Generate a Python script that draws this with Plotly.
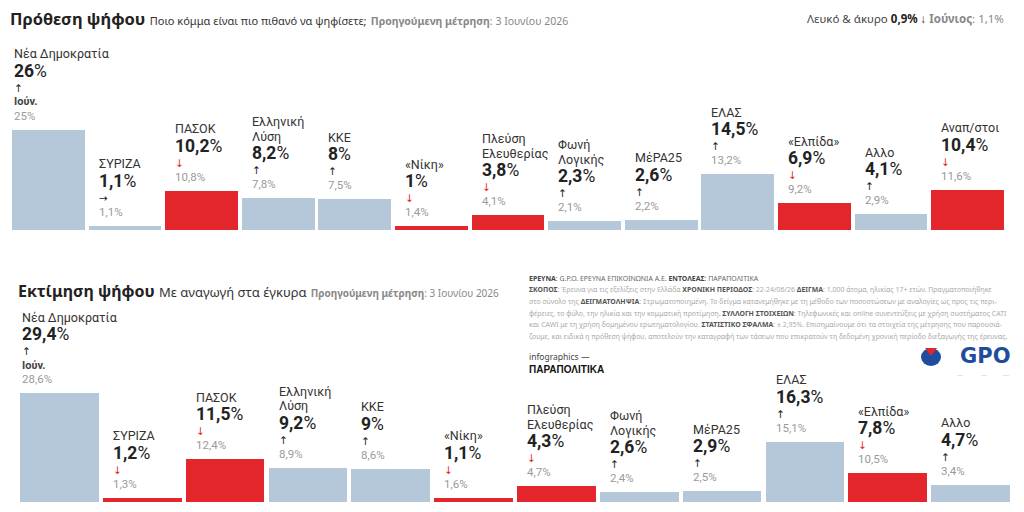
import plotly.graph_objects as go

# ---------------- data ----------------
top_parties = ["Νέα Δημοκρατία", "ΣΥΡΙΖΑ", "ΠΑΣΟΚ", "Ελληνική<br>Λύση", "ΚΚΕ", "«Νίκη»",
               "Πλεύση<br>Ελευθερίας", "Φωνή<br>Λογικής", "ΜέΡΑ25", "ΕΛΑΣ", "«Ελπίδα»",
               "Αλλο", "Αναπ/στοι"]
top_values = [26, 1.1, 10.2, 8.2, 8, 1, 3.8, 2.3, 2.6, 14.5, 6.9, 4.1, 10.4]
top_prev = [25, 1.1, 10.8, 7.8, 7.5, 1.4, 4.1, 2.1, 2.2, 13.2, 9.2, 2.9, 11.6]

bot_parties = ["Νέα Δημοκρατία", "ΣΥΡΙΖΑ", "ΠΑΣΟΚ", "Ελληνική<br>Λύση", "ΚΚΕ", "«Νίκη»",
               "Πλεύση<br>Ελευθερίας", "Φωνή<br>Λογικής", "ΜέΡΑ25", "ΕΛΑΣ", "«Ελπίδα»",
               "Αλλο"]
bot_values = [29.4, 1.2, 11.5, 9.2, 9, 1.1, 4.3, 2.6, 2.9, 16.3, 7.8, 4.7]
bot_prev = [28.6, 1.3, 12.4, 8.9, 8.6, 1.6, 4.7, 2.4, 2.5, 15.1, 10.5, 3.4]

info_lines = [
    [("ΕΡΕΥΝΑ", True), (": G.P.O. ΕΡΕΥΝΑ ΕΠΙΚΟΙΝΩΝΙΑ Α.Ε. ", False), ("ΕΝΤΟΛΕΑΣ", True), (": ΠΑΡΑΠΟΛΙΤΙΚΑ", False)],
    [("ΣΚΟΠΟΣ", True), (": Έρευνα για τις εξελίξεις στην Ελλάδα ", False), ("ΧΡΟΝΙΚΗ ΠΕΡΙΟΔΟΣ", True),
     (": 22-24/06/26 ", False), ("ΔΕΙΓΜΑ", True), (": 1.000 άτομα, ηλικίας 17+ ετών. Πραγματοποιήθηκε", False)],
    [("στο σύνολο της ", False), ("ΔΕΙΓΜΑΤΟΛΗΨΙΑ", True),
     (": Στρωματοποιημένη. Το δείγμα κατανεμήθηκε με τη μέθοδο των ποσοστώσεων με αναλογίες ως προς τις περι-", False)],
    [("φέρειες, το φύλο, την ηλικία και την κομματική προτίμηση. ", False), ("ΣΥΛΛΟΓΗ ΣΤΟΙΧΕΙΩΝ", True),
     (": Τηλεφωνικές και online συνεντεύξεις με χρήση συστήματος CATI", False)],
    [("και CAWI με τη χρήση δομημένου ερωτηματολογίου. ", False), ("ΣΤΑΤΙΣΤΙΚΟ ΣΦΑΛΜΑ", True),
     (": ± 2,95%. Επισημαίνουμε ότι τα στοιχεία της μέτρησης που παρουσιά-", False)],
    [("ζουμε, και ειδικά η πρόθεση ψήφου, αποτελούν την καταγραφή των τάσεων που επικρατούν τη δεδομένη χρονική περίοδο διεξαγωγής της έρευνας.", False)],
]

BLUE = "#b5c8da"
RED = "#e3262b"
DARK = "#222222"
GRAY = "#9a9a9a"
FONT = "Noto Sans"
LFONT = "Roboto"

W, H = 1024, 512


def fmt(v):
    if float(v).is_integer():
        return f"{int(v)}%"
    return f"{v}".replace(".", ",") + "%"


def fmt_b(v):
    s = fmt(v)
    return f"<b>{s[:-1]}</b>%"


fig = go.Figure()

panels = [
    dict(parties=top_parties, values=top_values, prev=top_prev, xa="x", ya="y",
         x0=10, x1=1006, base=230, top=50, ppu=3.85),
    dict(parties=bot_parties, values=bot_values, prev=bot_prev, xa="x2", ya="y2",
         x0=18, x1=1012, base=502, top=310, ppu=3.7),
]

annotations = []
for k, p in enumerate(panels):
    n = len(p["values"])
    xs = list(range(n))
    colors = [RED if v < pv else BLUE for v, pv in zip(p["values"], p["prev"])]
    fig.add_trace(go.Bar(x=xs, y=p["values"], marker=dict(color=colors, line=dict(width=0)),
                         width=0.95, xaxis=p["xa"], yaxis=p["ya"], hoverinfo="skip",
                         showlegend=False))
    suffix = "" if k == 0 else "2"
    fig.layout["xaxis" + suffix] = dict(domain=[p["x0"] / W, p["x1"] / W], range=[-0.5, n - 0.5],
                                         visible=False, fixedrange=True, anchor="y" + suffix)
    yr = (p["base"] - p["top"]) / p["ppu"]
    fig.layout["yaxis" + suffix] = dict(domain=[1 - p["base"] / H, 1 - p["top"] / H], range=[0, yr],
                                         visible=False, fixedrange=True, anchor="x" + suffix)
    for i, (name, v, pv) in enumerate(zip(p["parties"], p["values"], p["prev"])):
        xl = i - 0.475
        xsft = 1 if i == 0 else 9
        if v > pv:
            arrow, acol = "↑", DARK
        elif v < pv:
            arrow, acol = "↓", RED
        else:
            arrow, acol = "→", DARK

        def add(text, off, size, color, family=LFONT):
            annotations.append(dict(x=xl, y=v, xref=p["xa"], yref=p["ya"], text=text,
                                    showarrow=False, xanchor="left", yanchor="middle",
                                    xshift=xsft, yshift=off, borderpad=0,
                                    font=dict(family=family, size=size, color=color)))

        off = 14
        add(fmt(pv), off, 11.5, GRAY)
        if i == 0:
            off += 14
            add("<b>Ιούν.</b>", off, 11, "#444444")
        off += 14
        add(arrow, off, 10.5, acol, family="DejaVu Sans")
        off += 17
        add(fmt_b(v), off, 17.5, DARK)
        off += 17
        for ln in reversed(name.split("<br>")):
            add(ln, off, 12.5, "#333333")
            off += 14.5


def paper_text(x, y, text, size, color=DARK, xanchor="left", family=FONT):
    annotations.append(dict(x=x / W, y=1 - y / H, xref="paper", yref="paper", text=text,
                            showarrow=False, xanchor=xanchor, yanchor="middle",
                            font=dict(family=family, size=size, color=color)))


# titles
paper_text(8, 18,
           "<b>Πρόθεση ψήφου</b> <span style='font-size:11px;color:#333'>Ποιο κόμμα είναι πιο πιθανό να ψηφίσετε;</span>"
           " <span style='font-size:10.5px;color:#888'><b>Προηγούμενη μέτρηση</b>: 3 Ιουνίου 2026</span>",
           16.5, DARK)
paper_text(1006, 18,
           "<span style='color:#444'>Λευκό &amp; άκυρο </span><b>0,9%</b> ↓ "
           "<span style='color:#888'><b>Ιούνιος</b>: 1,1%</span>", 11.5, DARK, xanchor="right")
paper_text(16, 291,
           "<b>Εκτίμηση ψήφου</b> <span style='font-size:13px;color:#333'>Με αναγωγή στα έγκυρα</span>"
           " <span style='font-size:10px;color:#888'><b>Προηγούμενη μέτρηση</b>: 3 Ιουνίου 2026</span>",
           16, DARK)

# info block
for j, segs in enumerate(info_lines):
    parts = []
    for txt, bold in segs:
        if j == 0:
            parts.append(f"<b>{txt}</b>" if bold else f"<span style='color:#666'>{txt}</span>")
        else:
            parts.append(f"<span style='color:#555'><b>{txt}</b></span>" if bold
                         else f"<span style='color:#aaa'>{txt}</span>")
    paper_text(527, 278 + j * 11.7, "".join(parts), 6.95, "#444")

paper_text(527, 356, "infographics —", 8.5, "#444")
paper_text(527, 369, "<b>ΠΑΡΑΠΟΛΙΤΙΚΑ</b>", 10, "#111", family="Liberation Sans Narrow, Liberation Sans")

# GPO logo
annotations.append(dict(x=1012 / W, y=1 - 356 / H, xref="paper", yref="paper",
                        text="<b>GPO</b>", showarrow=False, xanchor="right", yanchor="middle",
                        font=dict(family="DejaVu Sans", size=21, color="#1f4d9e")))
shapes = [
    dict(type="circle", xref="paper", yref="paper", x0=921 / W, x1=941 / W,
         y0=1 - 366 / H, y1=1 - 348 / H, fillcolor="#1f4d9e", line=dict(width=0)),
    dict(type="path", xref="paper", yref="paper",
         path=f"M {925/W} {1-348/H} L {937/W} {1-348/H} L {931/W} {1-356/H} Z",
         fillcolor=RED, line=dict(width=0)),
]
for xx in (955, 979, 1001):
    paper_text(xx, 375, "——", 3, "#999")

fig.update_layout(width=W, height=H, margin=dict(l=0, r=0, t=0, b=0),
                  paper_bgcolor="white", plot_bgcolor="white",
                  annotations=annotations, shapes=shapes, bargap=0)

fig.write_html("out.html", config={"displayModeBar": False})
